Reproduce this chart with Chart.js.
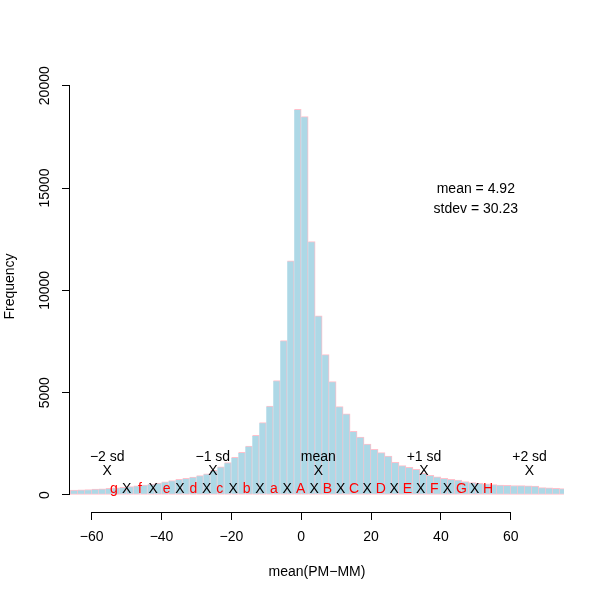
<!DOCTYPE html>
<html>
<head>
<meta charset="utf-8">
<script src="https://cdn.jsdelivr.net/npm/chart.js@4"></script>
<style>
  body { margin: 0; background: #fff; }
  canvas { display: block; }
</style>
</head>
<body>
<canvas id="hist" width="600" height="599"></canvas>
<script>
// histogram bins (width 2), centers and counts
const binCenters = [
  -67, -65, -63, -61, -59, -57, -55, -53, -51, -49, -47, -45, -43, -41, -39, -37, -35, -33,
  -31, -29, -27, -25, -23, -21, -19, -17, -15, -13, -11, -9, -7, -5, -3, -1,
  1, 3, 5, 7, 9, 11, 13, 15, 17, 19, 21, 23, 25, 27, 29, 31, 33, 35, 37, 39,
  41, 43, 45, 47, 49, 51, 53, 55, 57, 59, 61, 63, 65, 67, 69, 71, 73, 75
];
const binCounts = [
  240, 245, 255, 270, 290, 305, 325, 350, 375, 410, 445, 490, 530, 580, 640, 700, 760, 820,
  880, 950, 1030, 1200, 1380, 1580, 1840, 2085, 2395, 2915, 3535, 4350, 5590, 7540, 11440, 18850,
  18490, 12380, 8760, 6860, 5540, 4320, 3960, 3110, 2830, 2490, 2230, 2070, 1905, 1600, 1435, 1350, 1260, 1060, 960, 890,
  820, 770, 730, 660, 610, 570, 540, 510, 490, 475, 465, 455, 445, 440, 360, 350, 330, 310
];

const xTicks = [-60, -40, -20, 0, 20, 40, 60];
const yTicks = [0, 5000, 10000, 15000, 20000];

// sd markers
const sdNames = ["\u22122 sd", "\u22121 sd", "mean", "+1 sd", "+2 sd"];
const sdPos = [-55.54, -25.31, 4.92, 35.15, 65.38];
const sdMarkY = 1190;
const sdNameY = 1870;

// letter row along the bottom
const rowLabels = ["g", "X", "f", "X", "e", "X", "d", "X", "c", "X", "b", "X", "a", "X",
  "A", "X", "B", "X", "C", "X", "D", "X", "E", "X", "F", "X", "G", "X", "H"];
const rowPos = [-53.6, -50.0, -46.2, -42.4, -38.5, -34.7, -30.9, -27.1, -23.3, -19.5, -15.6, -11.8, -7.8, -4.0,
  -0.15, 3.7, 7.5, 11.3, 15.1, 18.9, 22.8, 26.6, 30.4, 34.2, 38.1, 41.9, 45.9, 49.7, 53.5];
const rowY = 280;

const statLines = ["mean = 4.92", "stdev = 30.23"];
const statX = 50;
const statY = [14950, 13960];

const family = '"Liberation Sans", Arial, Helvetica, sans-serif';
const font = { family: family, size: 14 };
const cssFont = "14px " + family;

const overlay = {
  id: "overlay",
  afterDraw(chart) {
    const { ctx, chartArea } = chart;
    const x = chart.scales.x;
    const y = chart.scales.y;
    ctx.save();

    // axis lines only span first..last tick, like R
    ctx.strokeStyle = "#000";
    ctx.lineWidth = 1;
    ctx.beginPath();
    const by = chartArea.bottom + 0.5;
    ctx.moveTo(x.getPixelForValue(xTicks[0]), by);
    ctx.lineTo(x.getPixelForValue(xTicks[xTicks.length - 1]), by);
    const lx = chartArea.left - 0.5;
    ctx.moveTo(lx, y.getPixelForValue(yTicks[0]));
    ctx.lineTo(lx, y.getPixelForValue(yTicks[yTicks.length - 1]));
    ctx.stroke();

    ctx.font = cssFont;
    ctx.fillStyle = "#000";
    ctx.textAlign = "center";
    ctx.textBaseline = "middle";

    // rotated y tick labels
    for (const v of yTicks) {
      ctx.save();
      ctx.translate(45, y.getPixelForValue(v));
      ctx.rotate(-Math.PI / 2);
      ctx.fillText(String(v), 0, 0);
      ctx.restore();
    }

    for (let i = 0; i < sdNames.length; i++) {
      const px = x.getPixelForValue(sdPos[i]);
      ctx.fillText(sdNames[i], px, y.getPixelForValue(sdNameY));
      ctx.fillText("X", px, y.getPixelForValue(sdMarkY));
    }

    for (let i = 0; i < rowLabels.length; i++) {
      ctx.fillStyle = rowLabels[i] === "X" ? "#000" : "#ff0000";
      ctx.fillText(rowLabels[i], x.getPixelForValue(rowPos[i]), y.getPixelForValue(rowY));
    }

    ctx.fillStyle = "#000";
    for (let i = 0; i < statLines.length; i++) {
      ctx.fillText(statLines[i], x.getPixelForValue(statX), y.getPixelForValue(statY[i]));
    }
    ctx.restore();
  }
};

new Chart(document.getElementById("hist"), {
  type: "bar",
  data: {
    datasets: [{
      data: binCenters.map((c, i) => ({ x: c, y: binCounts[i] })),
      backgroundColor: "#add8e6",
      borderColor: "#ffc0cb",
      borderWidth: { top: 1, right: 1, bottom: 1, left: 0 },
      borderSkipped: false,
      barPercentage: 1,
      categoryPercentage: 1,
      grouped: false,
      clip: 0
    }]
  },
  options: {
    responsive: false,
    animation: false,
    devicePixelRatio: 1,
    layout: { padding: { left: 0, right: 36, top: 61, bottom: 0 } },
    plugins: { legend: { display: false }, tooltip: { enabled: false } },
    scales: {
      x: {
        type: "linear",
        offset: false,
        min: -66.2,
        max: 75.25,
        afterBuildTicks: (s) => { s.ticks = xTicks.map((v) => ({ value: v })); },
        afterFit: (s) => { s.height = 87; },
        grid: { offset: false, drawOnChartArea: false, drawTicks: true, tickLength: 8, color: "#000" },
        border: { display: false },
        ticks: {
          font: font, color: "#000", padding: 9, maxRotation: 0, autoSkip: false,
          callback: (v) => String(v).replace("-", "\u2212")
        },
        title: { display: true, text: "mean(PM\u2212MM)", font: font, color: "#000", padding: { top: 0, bottom: 18 } }
      },
      y: {
        min: -831,
        max: 21207,
        afterBuildTicks: (s) => { s.ticks = yTicks.map((v) => ({ value: v })); },
        afterFit: (s) => { s.width = 70; },
        grid: { drawOnChartArea: false, drawTicks: true, tickLength: 8, color: "#000" },
        border: { display: false },
        ticks: { display: false },
        title: { display: true, text: "Frequency", font: font, color: "#000", padding: { top: 2, bottom: 0 } }
      }
    }
  },
  plugins: [overlay]
});
</script>
</body>
</html>
